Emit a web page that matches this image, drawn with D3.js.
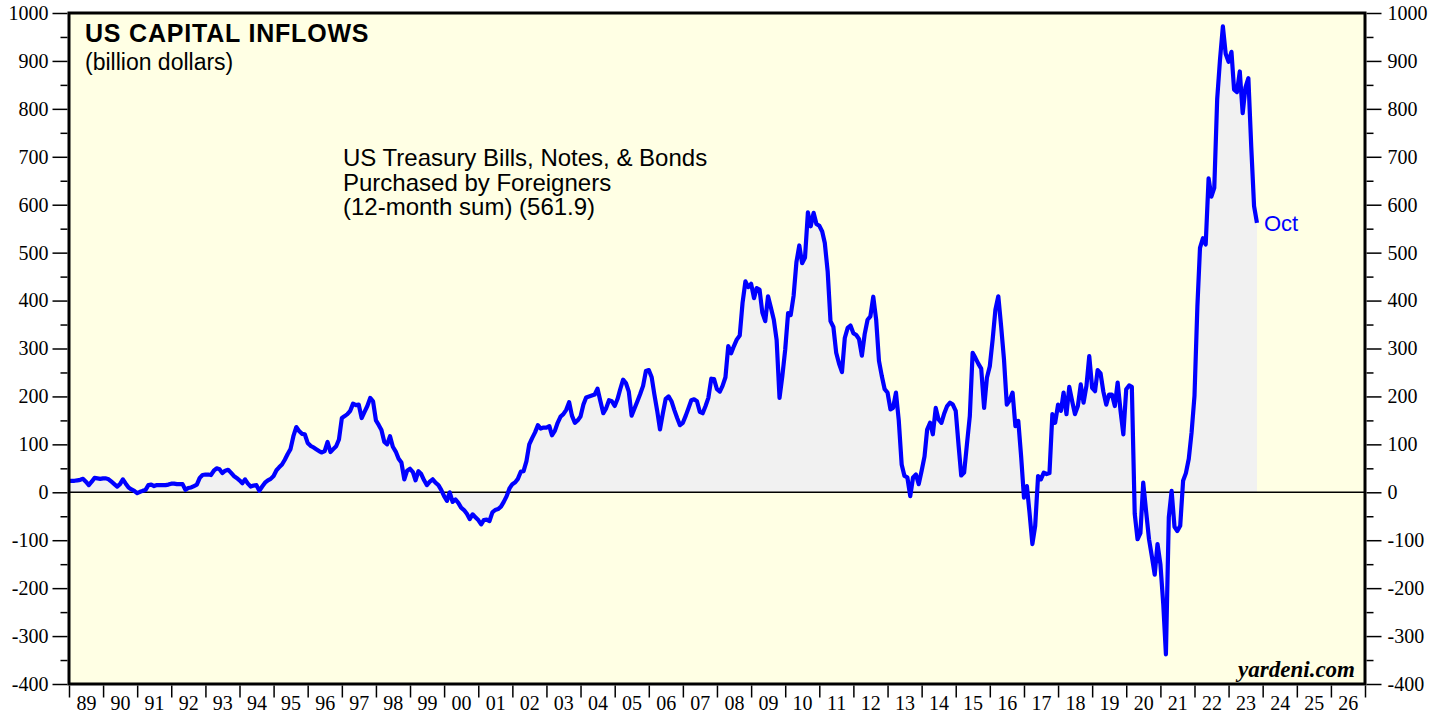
<!DOCTYPE html>
<html>
<head>
<meta charset="utf-8">
<script src="https://cdn.jsdelivr.net/npm/d3@7"></script>
<style>
  html, body { margin: 0; padding: 0; background: #fff; }
  svg { display: block; }
  .axis line { stroke: #000; stroke-width: 1.5px; }
  .axis path { display: none; }
</style>
</head>
<body>
<svg id="chart" width="1446" height="719"></svg>
<script>
// 12-month sum of US Treasury purchases by foreigners, billion $
// first value is Dec 1988, plotted at month end
const firstMonth = new Date(1988, 11, 1);
const inflows = [
  24, 24, 24, 25, 26, 28, 22, 15, 22, 30, 29, 28,            // 89
  29, 29, 27, 22, 17, 12, 17, 27, 18, 10, 6, 3,              // 90
  -2, 1, 3, 5, 15, 16, 13, 15, 15, 15, 15, 16,               // 91
  18, 18, 17, 17, 17, 5, 9, 10, 13, 16, 30, 36,              // 92
  37, 37, 36, 45, 50, 48, 40, 45, 47, 41, 34, 30,            // 93
  25, 19, 27, 18, 12, 14, 15, 3, 12, 20, 25, 28,             // 94
  34, 46, 52, 58, 68, 80, 90, 117, 136, 128, 122, 121,       // 95
  103, 97, 94, 90, 86, 83, 86, 105, 84, 90, 96, 110,         // 96
  155, 159, 163, 170, 185, 182, 183, 155, 168, 180, 197, 190,  // 97
  150, 140, 130, 105, 100, 117, 95, 85, 70, 62, 27, 45,      // 98
  49, 42, 25, 44, 38, 25, 15, 22, 27, 20, 15, 5,             // 99
  -8, -18, 0, -20, -15, -22, -32, -37, -45, -56, -46, -52,   // 00
  -58, -67, -58, -57, -60, -42, -37, -35, -30, -20, -8, 8,   // 01
  17, 21, 28, 43, 44, 65, 100, 113, 125, 140, 133, 135,      // 02
  135, 138, 119, 128, 145, 158, 163, 172, 188, 160, 145, 150,  // 03
  158, 183, 198, 200, 202, 204, 216, 190, 165, 175, 192, 190,  // 04
  180, 195, 215, 235, 228, 210, 160, 175, 190, 205, 222, 253,  // 05
  255, 240, 205, 170, 131, 165, 195, 200, 190, 172, 155, 140,  // 06
  145, 160, 175, 192, 194, 190, 168, 165, 180, 197, 237, 236,  // 07
  215, 210, 222, 240, 305, 290, 305, 319, 327, 395, 440, 428,  // 08
  435, 405, 426, 423, 375, 357, 409, 385, 360, 318, 197, 242,  // 09
  298, 374, 370, 410, 480, 515, 478, 490, 584, 555, 583, 560,  // 10
  556, 544, 520, 460, 357, 345, 291, 268, 251, 322, 343, 348,  // 11
  332, 328, 320, 285, 330, 360, 367, 408, 360, 274, 242, 215,  // 12
  208, 173, 176, 208, 150, 58, 34, 31, -8, 31, 37, 17,       // 13
  45, 75, 131, 145, 121, 176, 152, 145, 165, 180, 187, 183,  // 14
  170, 97, 35, 41, 100, 159, 291, 280, 268, 258, 176, 239,   // 15
  263, 320, 381, 409, 347, 277, 183, 192, 208, 138, 149, 76, // 16
  -11, 13, -42, -108, -70, 34, 27, 41, 38, 40, 163, 145,     // 17
  183, 170, 208, 163, 220, 190, 163, 180, 225, 187, 222, 284,  // 18
  218, 211, 255, 248, 210, 183, 204, 204, 180, 229, 170, 121,  // 19
  215, 223, 220, -45, -98, -85, 20, -40, -98, -133, -172, -108, // 20
  -150, -235, -338, -52, 3, -72, -81, -70, 24, 40, 70, 125,  // 21
  201, 388, 510, 530, 517, 655, 617, 635, 820, 902, 972, 915,  // 22
  898, 919, 840, 835, 878, 791, 845, 864, 720, 597, 561.9     // 23
];

const yMajor = d3.range(-400, 1001, 100);
const yMinor = d3.range(-350, 1000, 100);
const yearStarts = d3.range(1989, 2028);
const yearLabels = d3.range(1989, 2027);

const titleText = "US CAPITAL INFLOWS";
const unitText = "(billion dollars)";
const seriesLines = ["US Treasury Bills, Notes, & Bonds", "Purchased by Foreigners", "(12-month sum) (561.9)"];
const lastLabel = "Oct";
const source = "yardeni.com";

const svg = d3.select("#chart");
const pLeft = 69, pRight = 1365, pTop = 13, pBottom = 684;
const serif = "Liberation Serif";
const sans = "Liberation Sans";

const x = d3.scaleTime()
  .domain([new Date(1989, 0, 1), new Date(2027, 0, 1)])
  .range([pLeft, pRight]);
const y = d3.scaleLinear()
  .domain([-400, 1000])
  .range([pBottom, pTop]);

const points = inflows.map((v, i) => ({ date: d3.timeMonth.offset(firstMonth, i + 1), value: v }));

// plot background
svg.append("rect")
  .attr("x", pLeft).attr("y", pTop)
  .attr("width", pRight - pLeft).attr("height", pBottom - pTop)
  .attr("fill", "#ffffe4");

// shaded area to zero
svg.append("path")
  .datum(points)
  .attr("fill", "#f1f1f1")
  .attr("d", d3.area()
    .x((d) => x(d.date))
    .y0(y(0))
    .y1((d) => y(d.value)));

// zero line
svg.append("line")
  .attr("x1", pLeft).attr("x2", pRight)
  .attr("y1", y(0)).attr("y2", y(0))
  .attr("stroke", "#000").attr("stroke-width", 1.5);

svg.append("path")
  .datum(points)
  .attr("fill", "none")
  .attr("stroke", "#0000ff")
  .attr("stroke-width", 4.2)
  .attr("stroke-linejoin", "round")
  .attr("d", d3.line()
    .x((d) => x(d.date))
    .y((d) => y(d.value)));

// frame
svg.append("rect")
  .attr("x", pLeft).attr("y", pTop)
  .attr("width", pRight - pLeft).attr("height", pBottom - pTop)
  .attr("fill", "none")
  .attr("stroke", "#000").attr("stroke-width", 3);

const styleTicks = (g) => {
  g.attr("font-family", serif).attr("font-size", 20);
  g.selectAll("text").attr("fill", "#000");
};
const plain = (d) => String(d);

// y axes, both sides
svg.append("g").attr("class", "axis")
  .attr("transform", `translate(${pLeft - 1.5},0)`)
  .call(d3.axisLeft(y).tickValues(yMajor).tickSize(15).tickPadding(4).tickFormat(plain))
  .call(styleTicks);
svg.append("g").attr("class", "axis")
  .attr("transform", `translate(${pLeft - 1.5},0)`)
  .call(d3.axisLeft(y).tickValues(yMinor).tickSize(7).tickFormat(""));
svg.append("g").attr("class", "axis")
  .attr("transform", `translate(${pRight + 1.5},0)`)
  .call(d3.axisRight(y).tickValues(yMajor).tickSize(15).tickPadding(6).tickFormat(plain))
  .call(styleTicks);
svg.append("g").attr("class", "axis")
  .attr("transform", `translate(${pRight + 1.5},0)`)
  .call(d3.axisRight(y).tickValues(yMinor).tickSize(7).tickFormat(""));

// x axis: year ticks and centred labels
svg.append("g").attr("class", "axis")
  .attr("transform", `translate(0,${pBottom + 1.5})`)
  .call(d3.axisBottom(x)
    .tickValues(yearStarts.map((yr) => new Date(yr, 0, 1)))
    .tickSize(12).tickFormat(""));
svg.append("g").attr("class", "axis")
  .attr("transform", `translate(0,${pBottom + 1.5})`)
  .call(d3.axisBottom(x)
    .tickValues(yearLabels.map((yr) => new Date(yr, 6, 1)))
    .tickSize(0).tickPadding(10)
    .tickFormat(d3.timeFormat("%y")))
  .call((g) => g.selectAll(".tick line").remove())
  .call(styleTicks);

// texts
svg.append("text")
  .attr("x", 85).attr("y", 42)
  .attr("font-family", sans)
  .attr("font-weight", "bold").attr("font-size", 25)
  .attr("letter-spacing", 0.8)
  .text(titleText);
svg.append("text")
  .attr("x", 85).attr("y", 70)
  .attr("font-family", sans)
  .attr("font-size", 23)
  .text(unitText);

svg.append("g")
  .selectAll("text")
  .data(seriesLines)
  .join("text")
  .attr("x", 343)
  .attr("y", (d, i) => 166 + i * 24.5)
  .attr("font-family", sans)
  .attr("font-size", 24)
  .text((d) => d);

const last = points[points.length - 1];
svg.append("text")
  .attr("x", x(last.date) + 7).attr("y", y(last.value) + 8)
  .attr("font-family", sans)
  .attr("font-size", 22)
  .attr("fill", "#0000ff")
  .text(lastLabel);

svg.append("text")
  .attr("x", pRight - 10).attr("y", 677)
  .attr("text-anchor", "end")
  .attr("font-family", serif)
  .attr("font-weight", "bold").attr("font-style", "italic")
  .attr("font-size", 23)
  .text(source);
</script>
</body>
</html>
